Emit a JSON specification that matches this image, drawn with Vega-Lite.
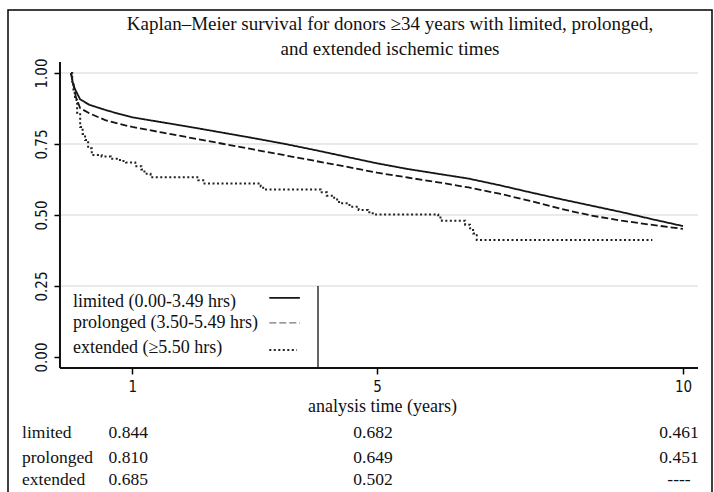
{
  "$schema": "https://vega.github.io/schema/vega-lite/v6.json",
  "width": 704,
  "height": 490,
  "autosize": {"type": "none"},
  "padding": {"left": 8, "top": 10, "right": 2, "bottom": 0},
  "background": "white",
  "config": {
    "view": {"stroke": "#000", "strokeWidth": 1.5},
    "font": "Liberation Serif",
    "text": {"font": "Liberation Serif", "fontSize": 17.5, "color": "#111"}
  },
  "title": {
    "text": ["Kaplan–Meier survival for donors ≥34 years with limited, prolonged,", "and extended ischemic times"],
    "font": "Liberation Serif",
    "fontSize": 19,
    "fontWeight": "normal",
    "color": "#111",
    "anchor": "middle",
    "offset": -49,
    "dx": 30,
    "lineHeight": 25
  },
  "datasets": {
    "grid": [{"v": 0.25}, {"v": 0.5}, {"v": 0.75}, {"v": 1}],
    "box": [{"k": 1}],
    "curves": [
      {"series": "limited", "t": 0, "S": 1},
      {"series": "limited", "t": 0.03, "S": 0.965},
      {"series": "limited", "t": 0.065, "S": 0.943},
      {"series": "limited", "t": 0.15, "S": 0.907},
      {"series": "limited", "t": 0.3, "S": 0.888},
      {"series": "limited", "t": 0.56, "S": 0.87},
      {"series": "limited", "t": 0.8, "S": 0.855},
      {"series": "limited", "t": 1, "S": 0.844},
      {"series": "limited", "t": 1.5, "S": 0.826},
      {"series": "limited", "t": 2, "S": 0.808},
      {"series": "limited", "t": 2.5, "S": 0.789},
      {"series": "limited", "t": 3, "S": 0.77},
      {"series": "limited", "t": 3.5, "S": 0.75},
      {"series": "limited", "t": 4, "S": 0.728},
      {"series": "limited", "t": 4.5, "S": 0.705},
      {"series": "limited", "t": 5, "S": 0.682},
      {"series": "limited", "t": 5.5, "S": 0.662},
      {"series": "limited", "t": 6, "S": 0.645},
      {"series": "limited", "t": 6.5, "S": 0.628},
      {"series": "limited", "t": 7, "S": 0.605},
      {"series": "limited", "t": 7.5, "S": 0.58},
      {"series": "limited", "t": 8, "S": 0.556},
      {"series": "limited", "t": 8.5, "S": 0.533},
      {"series": "limited", "t": 9, "S": 0.51},
      {"series": "limited", "t": 9.5, "S": 0.485},
      {"series": "limited", "t": 10, "S": 0.461},
      {"series": "prolonged", "t": 0, "S": 1},
      {"series": "prolonged", "t": 0.04, "S": 0.958},
      {"series": "prolonged", "t": 0.08, "S": 0.915},
      {"series": "prolonged", "t": 0.15, "S": 0.876},
      {"series": "prolonged", "t": 0.3, "S": 0.858},
      {"series": "prolonged", "t": 0.56, "S": 0.834},
      {"series": "prolonged", "t": 0.8, "S": 0.82},
      {"series": "prolonged", "t": 1, "S": 0.81},
      {"series": "prolonged", "t": 1.5, "S": 0.79},
      {"series": "prolonged", "t": 2, "S": 0.77},
      {"series": "prolonged", "t": 2.5, "S": 0.75},
      {"series": "prolonged", "t": 3, "S": 0.73},
      {"series": "prolonged", "t": 3.5, "S": 0.71},
      {"series": "prolonged", "t": 4, "S": 0.69},
      {"series": "prolonged", "t": 4.5, "S": 0.67},
      {"series": "prolonged", "t": 5, "S": 0.649},
      {"series": "prolonged", "t": 5.5, "S": 0.632},
      {"series": "prolonged", "t": 6, "S": 0.615},
      {"series": "prolonged", "t": 6.5, "S": 0.597},
      {"series": "prolonged", "t": 7, "S": 0.575},
      {"series": "prolonged", "t": 7.5, "S": 0.55},
      {"series": "prolonged", "t": 8, "S": 0.522},
      {"series": "prolonged", "t": 8.5, "S": 0.498},
      {"series": "prolonged", "t": 9, "S": 0.48},
      {"series": "prolonged", "t": 9.5, "S": 0.465},
      {"series": "prolonged", "t": 10, "S": 0.451},
      {"series": "extended", "t": 0, "S": 1},
      {"series": "extended", "t": 0.02, "S": 0.96},
      {"series": "extended", "t": 0.04, "S": 0.93},
      {"series": "extended", "t": 0.065, "S": 0.905},
      {"series": "extended", "t": 0.1, "S": 0.86},
      {"series": "extended", "t": 0.15, "S": 0.81},
      {"series": "extended", "t": 0.19, "S": 0.785},
      {"series": "extended", "t": 0.23, "S": 0.764},
      {"series": "extended", "t": 0.28, "S": 0.735},
      {"series": "extended", "t": 0.34, "S": 0.711},
      {"series": "extended", "t": 0.5, "S": 0.706},
      {"series": "extended", "t": 0.65, "S": 0.698},
      {"series": "extended", "t": 0.8, "S": 0.69},
      {"series": "extended", "t": 0.9, "S": 0.685},
      {"series": "extended", "t": 1.05, "S": 0.672},
      {"series": "extended", "t": 1.15, "S": 0.66},
      {"series": "extended", "t": 1.2, "S": 0.645},
      {"series": "extended", "t": 1.3, "S": 0.633},
      {"series": "extended", "t": 2.08, "S": 0.622},
      {"series": "extended", "t": 2.16, "S": 0.611},
      {"series": "extended", "t": 3.1, "S": 0.6},
      {"series": "extended", "t": 3.14, "S": 0.59},
      {"series": "extended", "t": 4.08, "S": 0.58},
      {"series": "extended", "t": 4.18, "S": 0.568},
      {"series": "extended", "t": 4.3, "S": 0.555},
      {"series": "extended", "t": 4.38, "S": 0.541},
      {"series": "extended", "t": 4.55, "S": 0.529},
      {"series": "extended", "t": 4.7, "S": 0.518},
      {"series": "extended", "t": 4.85, "S": 0.51},
      {"series": "extended", "t": 4.93, "S": 0.502},
      {"series": "extended", "t": 6.0, "S": 0.491},
      {"series": "extended", "t": 6.06, "S": 0.48},
      {"series": "extended", "t": 6.44, "S": 0.466},
      {"series": "extended", "t": 6.52, "S": 0.453},
      {"series": "extended", "t": 6.57, "S": 0.435},
      {"series": "extended", "t": 6.63, "S": 0.412},
      {"series": "extended", "t": 9.5, "S": 0.412}
    ],
    "table": [
      {"series": "limited", "t": 1, "value": "0.844"},
      {"series": "limited", "t": 5, "value": "0.682"},
      {"series": "limited", "t": 10, "value": "0.461"},
      {"series": "prolonged", "t": 1, "value": "0.810"},
      {"series": "prolonged", "t": 5, "value": "0.649"},
      {"series": "prolonged", "t": 10, "value": "0.451"},
      {"series": "extended", "t": 1, "value": "0.685"},
      {"series": "extended", "t": 5, "value": "0.502"},
      {"series": "extended", "t": 10, "value": "----"}
    ],
    "legend": [
      {"series": "limited", "label": "limited (0.00-3.49 hrs)"},
      {"series": "prolonged", "label": "prolonged (3.50-5.49 hrs)"},
      {"series": "extended", "label": "extended (≥5.50 hrs)"}
    ]
  },
  "layer": [
    {
      "data": {"name": "grid"},
      "mark": {"type": "rule", "stroke": "#d6d6d6", "strokeWidth": 1.2},
      "encoding": {
        "y": {"field": "v", "type": "quantitative", "scale": {"domain": [-0.5035, 1.2218], "nice": false, "zero": false},
          "axis": {"values": [0, 0.25, 0.5, 0.75, 1], "format": ".2f", "offset": -52, "domain": false, "grid": false,
            "tickSize": 6, "tickColor": "#000", "tickWidth": 1.5, "labelAngle": -90, "labelAlign": "center", "labelBaseline": "bottom",
            "labelPadding": 5, "labelFont": "DejaVu Sans Condensed, Liberation Sans", "labelFontSize": 15, "labelColor": "#111", "title": null}},
        "x": {"datum": -0.18, "type": "quantitative", "scale": {"domain": [-1.0294, 10.4739], "nice": false, "zero": false},
          "axis": {"values": [1, 5, 10], "format": "d", "offset": -132, "domain": false, "grid": false, "tickSize": 6, "tickColor": "#000", "tickWidth": 1.5,
            "labelPadding": 5, "labelFont": "DejaVu Sans Condensed, Liberation Sans", "labelFontSize": 15, "labelColor": "#111",
            "title": "analysis time (years)", "titleFont": "Liberation Serif", "titleFontSize": 18, "titleFontWeight": "normal",
            "titleColor": "#111", "titlePadding": 3, "titleX": 374}},
        "x2": {"datum": 10.245}
      }
    },
    {
      "data": {"name": "curves"},
      "transform": [{"filter": "datum.series !== 'extended'"}],
      "mark": {"type": "line", "color": "#151515", "strokeWidth": 1.8},
      "encoding": {
        "x": {"field": "t", "type": "quantitative"},
        "y": {"field": "S", "type": "quantitative"},
        "detail": {"field": "series"},
        "strokeDash": {"field": "series", "type": "nominal", "legend": null,
          "scale": {"domain": ["limited", "prolonged", "extended"], "range": [[1, 0], [7, 3], [2, 2.5]]}}
      }
    },
    {
      "data": {"name": "curves"},
      "transform": [{"filter": "datum.series === 'extended'"}],
      "mark": {"type": "line", "color": "#222", "strokeWidth": 2, "interpolate": "step-after"},
      "encoding": {
        "x": {"field": "t", "type": "quantitative"},
        "y": {"field": "S", "type": "quantitative"},
        "strokeDash": {"field": "series", "type": "nominal", "legend": null}
      }
    },
    {
      "data": {"name": "box"},
      "mark": {"type": "rect", "fill": "white"},
      "encoding": {
        "x": {"datum": -0.18, "type": "quantitative"},
        "x2": {"datum": 4.036},
        "y": {"datum": -0.0387, "type": "quantitative"},
        "y2": {"datum": 0.245}
      }
    },
    {
      "data": {"name": "box"},
      "mark": {"type": "rule", "stroke": "#111", "strokeWidth": 1.3},
      "encoding": {
        "x": {"datum": 4.036, "type": "quantitative"},
        "y": {"datum": -0.0387, "type": "quantitative"},
        "y2": {"datum": 0.25}
      }
    },
    {
      "data": {"name": "box"},
      "mark": {"type": "rule", "stroke": "#111", "strokeWidth": 2},
      "encoding": {
        "x": {"datum": -0.18, "type": "quantitative"},
        "y": {"datum": -0.0387, "type": "quantitative"},
        "y2": {"datum": 1.039}
      }
    },
    {
      "data": {"name": "box"},
      "mark": {"type": "rule", "stroke": "#111", "strokeWidth": 2},
      "encoding": {
        "x": {"datum": -0.18, "type": "quantitative"},
        "x2": {"datum": 10.245},
        "y": {"datum": -0.0387, "type": "quantitative"}
      }
    },
    {
      "data": {"name": "legend"},
      "transform": [{"filter": "datum.series === 'limited'"}],
      "layer": [
        {"mark": {"type": "text", "align": "left", "baseline": "middle", "fontSize": 18},
          "encoding": {"x": {"datum": 0.033, "type": "quantitative"}, "y": {"datum": 0.194, "type": "quantitative"}, "text": {"field": "label"}}},
        {"mark": {"type": "rule", "color": "#151515", "strokeWidth": 1.8},
          "encoding": {"x": {"datum": 3.24, "type": "quantitative"}, "x2": {"datum": 3.74}, "y": {"datum": 0.208, "type": "quantitative"},
            "strokeDash": {"field": "series", "type": "nominal", "legend": null}}}
      ]
    },
    {
      "data": {"name": "legend"},
      "transform": [{"filter": "datum.series === 'prolonged'"}],
      "layer": [
        {"mark": {"type": "text", "align": "left", "baseline": "middle", "fontSize": 18},
          "encoding": {"x": {"datum": 0.033, "type": "quantitative"}, "y": {"datum": 0.12, "type": "quantitative"}, "text": {"field": "label"}}},
        {"mark": {"type": "rule", "color": "#777", "strokeWidth": 1.3},
          "encoding": {"x": {"datum": 3.24, "type": "quantitative"}, "x2": {"datum": 3.74}, "y": {"datum": 0.12, "type": "quantitative"},
            "strokeDash": {"field": "series", "type": "nominal", "legend": null}}}
      ]
    },
    {
      "data": {"name": "legend"},
      "transform": [{"filter": "datum.series === 'extended'"}],
      "layer": [
        {"mark": {"type": "text", "align": "left", "baseline": "middle", "fontSize": 18},
          "encoding": {"x": {"datum": 0.033, "type": "quantitative"}, "y": {"datum": 0.03, "type": "quantitative"}, "text": {"field": "label"}}},
        {"mark": {"type": "rule", "color": "#222", "strokeWidth": 2},
          "encoding": {"x": {"datum": 3.24, "type": "quantitative"}, "x2": {"datum": 3.69}, "y": {"datum": 0.025, "type": "quantitative"},
            "strokeDash": {"field": "series", "type": "nominal", "legend": null}}}
      ]
    },
    {
      "data": {"name": "table"},
      "transform": [{"filter": "datum.series === 'limited'"}],
      "layer": [
        {"mark": {"type": "text", "align": "center", "baseline": "middle", "dx": -4},
          "encoding": {"x": {"field": "t", "type": "quantitative"}, "y": {"datum": -0.2676, "type": "quantitative"}, "text": {"field": "value"}}},
        {"transform": [{"filter": "datum.t === 1"}], "mark": {"type": "text", "align": "left", "baseline": "middle"},
          "encoding": {"x": {"datum": -0.8, "type": "quantitative"}, "y": {"datum": -0.2676, "type": "quantitative"}, "text": {"field": "series"}}}
      ]
    },
    {
      "data": {"name": "table"},
      "transform": [{"filter": "datum.series === 'prolonged'"}],
      "layer": [
        {"mark": {"type": "text", "align": "center", "baseline": "middle", "dx": -4},
          "encoding": {"x": {"field": "t", "type": "quantitative"}, "y": {"datum": -0.3556, "type": "quantitative"}, "text": {"field": "value"}}},
        {"transform": [{"filter": "datum.t === 1"}], "mark": {"type": "text", "align": "left", "baseline": "middle"},
          "encoding": {"x": {"datum": -0.8, "type": "quantitative"}, "y": {"datum": -0.3556, "type": "quantitative"}, "text": {"field": "series"}}}
      ]
    },
    {
      "data": {"name": "table"},
      "transform": [{"filter": "datum.series === 'extended'"}],
      "layer": [
        {"mark": {"type": "text", "align": "center", "baseline": "middle", "dx": -4},
          "encoding": {"x": {"field": "t", "type": "quantitative"}, "y": {"datum": -0.4331, "type": "quantitative"}, "text": {"field": "value"}}},
        {"transform": [{"filter": "datum.t === 1"}], "mark": {"type": "text", "align": "left", "baseline": "middle"},
          "encoding": {"x": {"datum": -0.8, "type": "quantitative"}, "y": {"datum": -0.4331, "type": "quantitative"}, "text": {"field": "series"}}}
      ]
    }
  ]
}
